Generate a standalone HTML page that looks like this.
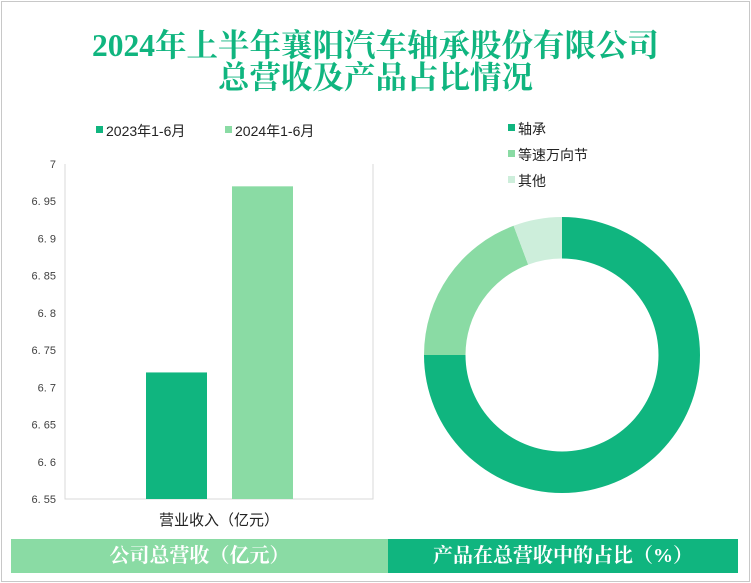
<!DOCTYPE html>
<html><head><meta charset="utf-8"><style>
body{margin:0;background:#fff;}
#root{position:relative;width:751px;height:583px;overflow:hidden;font-family:"Liberation Sans","Noto Sans CJK SC",sans-serif;}
.frame{position:absolute;left:1px;top:1px;width:747px;height:579px;border:1px solid #c8c8c8;}
.title{position:absolute;left:0;width:751px;text-align:center;color:#10b57f;font-family:"Liberation Serif","Noto Serif CJK SC",serif;font-size:31.5px;line-height:34px;font-weight:bold;}
.band{position:absolute;top:539px;height:34px;color:#fff;font-family:"Liberation Serif","Noto Serif CJK SC",serif;font-weight:bold;font-size:20px;line-height:34px;text-align:center;}
</style></head><body>
<div id="root">
<div class="frame"></div>
<div class="title" style="top:29px">2024年上半年襄阳汽车轴承股份有限公司</div>
<div class="title" style="top:61px">总营收及产品占比情况</div>
<svg id="svg" width="751" height="583" style="position:absolute;left:0;top:0"></svg>
<div class="band" style="left:11px;width:377px;background:#8adba4">公司总营收（亿元）</div>
<div class="band" style="left:388px;width:350px;background:#10b57f">产品在总营收中的占比（%）</div>
</div>
<script>
const seriesNames=["2023年1-6月","2024年1-6月"];
const revenue=[6.72,6.97];
const yTicks=[6.55,6.6,6.65,6.7,6.75,6.8,6.85,6.9,6.95,7];
const category="营业收入（亿元）";
const pieLabels=["轴承","等速万向节","其他"];
const pieValues=[75,19.3,5.7];
const barColors=["#10b57f","#8adba4"];
const pieColors=["#10b57f","#8adba4","#cdeedb"];

const NS="http://www.w3.org/2000/svg";
const svg=document.getElementById('svg');
function mk(t,a,p){const e=document.createElementNS(NS,t);for(const k in a)e.setAttribute(k,a[k]);(p||svg).appendChild(e);return e;}
const y0=499,y1=164,vmin=6.55,vmax=7;
const yS=v=>y0-(v-vmin)/(vmax-vmin)*(y0-y1);
let ax=mk('polyline',{points:`65,${y1} 65,${y0} 373,${y0} 373,${y1}`,fill:'none',stroke:'#d9d9d9','stroke-width':1});


yTicks.forEach(t=>{
 const tx=mk('text',{x:56,y:yS(t)+4,'text-anchor':'end','font-size':11,fill:'#404040'});
 tx.textContent=String(t).replace('.','. ');
 
 
});
const barX=[146,232],barW=61;
revenue.forEach((v,i)=>{
 const r=mk('rect',{x:barX[i],y:yS(v),width:barW,height:y0-yS(v),fill:barColors[i]});
 
 
});
const cl=mk('text',{x:219,y:525,'text-anchor':'middle','font-size':15,fill:'#222'});
cl.textContent=category;


const lx=[96,225];
seriesNames.forEach((n,i)=>{
 const g=mk('g',{});
 
 
 mk('rect',{x:lx[i],y:126,width:7,height:7,fill:barColors[i]},g);
 const t=mk('text',{x:lx[i]+10,y:136,'font-size':14,fill:'#222'},g);t.textContent=n;
});
const cx=562,cy=355,R=138,r0=96.5;
let tot=pieValues.reduce((a,b)=>a+b,0),acc=0;
pieValues.forEach((v,i)=>{
 const a0=acc/tot*2*Math.PI;acc+=v;const a1=acc/tot*2*Math.PI;
 const p=(a,rr)=>[cx+rr*Math.sin(a),cy-rr*Math.cos(a)];
 const lg=(a1-a0)>Math.PI?1:0;
 const [x0,yy0]=p(a0,R),[x1,yy1]=p(a1,R),[x2,y2]=p(a1,r0),[x3,y3]=p(a0,r0);
 const s=mk('path',{d:`M${x0},${yy0}A${R},${R} 0 ${lg} 1 ${x1},${yy1}L${x2},${y2}A${r0},${r0} 0 ${lg} 0 ${x3},${y3}Z`,fill:pieColors[i]});
 
 
});
pieLabels.forEach((n,i)=>{
 const g=mk('g',{});
 
 
 mk('rect',{x:508,y:124+i*26,width:7,height:7,fill:pieColors[i]},g);
 const t=mk('text',{x:518,y:134+i*26,'font-size':14,fill:'#222'},g);t.textContent=n;
});
</script>
</body></html>
